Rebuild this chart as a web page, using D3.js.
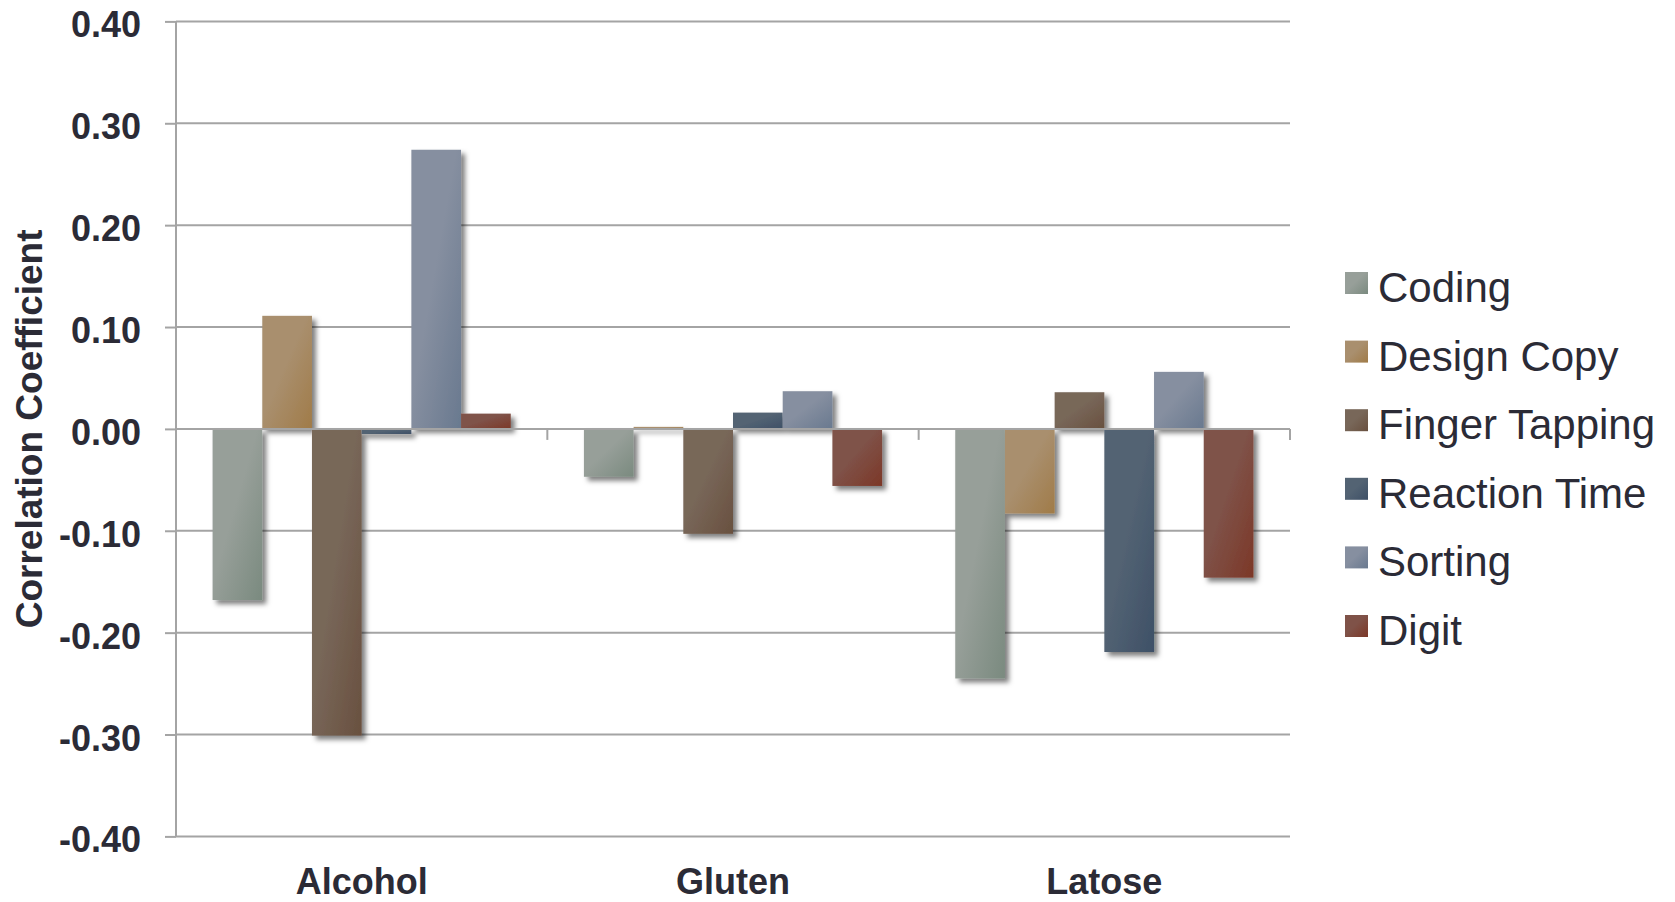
<!DOCTYPE html>
<html>
<head>
<meta charset="utf-8">
<script src="https://cdn.jsdelivr.net/npm/d3@7"></script>
<style>
  html, body { margin: 0; padding: 0; background: #ffffff; }
  svg { display: block; }
  text { font-family: "Liberation Sans", Arial, Helvetica, sans-serif; fill: #2b2b36; }
</style>
</head>
<body>
<svg id="chart" width="1675" height="902"></svg>
<script>
// Substance groups along the x axis
const categories = ["Alcohol", "Gluten", "Latose"];

// Cognitive test series
const seriesNames = ["Coding", "Design Copy", "Finger Tapping", "Reaction Time", "Sorting", "Digit"];

// Correlation coefficients, one array per test, in category order
const coding        = [-0.168, -0.047, -0.245];
const designCopy    = [ 0.111,  0.002, -0.083];
const fingerTapping = [-0.301, -0.103,  0.036];
const reactionTime  = [-0.005,  0.016, -0.219];
const sorting       = [ 0.274,  0.037,  0.056];
const digit         = [ 0.015, -0.056, -0.146];

// Y axis tick values
const yTicks = [0.40, 0.30, 0.20, 0.10, 0.00, -0.10, -0.20, -0.30, -0.40];

// Bar colour ramps (light top-left -> deep bottom-right)
const seriesColors = [
  ["#979f99", "#7a8a7f"],
  ["#a98f6e", "#a07b48"],
  ["#786759", "#69503f"],
  ["#536373", "#3e5067"],
  ["#868fa0", "#69798f"],
  ["#7f5248", "#7c3727"]
];

const seriesValues = [coding, designCopy, fingerTapping, reactionTime, sorting, digit];
const rows = [];
categories.forEach((c, ci) => {
  seriesNames.forEach((s, si) => rows.push({ category: c, series: s, si: si, value: seriesValues[si][ci] }));
});

const svg = d3.select("#chart");
const plotLeft = 176, plotRight = 1290, plotTop = 21.4, plotBottom = 836.4;

const y = d3.scaleLinear().domain([-0.4, 0.4]).range([plotBottom, plotTop]);
const x0 = d3.scaleBand().domain(categories).range([plotLeft, plotRight])
  .paddingInner(0.197).paddingOuter(0.0985);
const x1 = d3.scaleBand().domain(seriesNames).range([0, x0.bandwidth()]);

// Gradients and shadow
const defs = svg.append("defs");
seriesColors.forEach((c, i) => {
  const g = defs.append("linearGradient").attr("id", "grad" + i)
    .attr("x1", 0).attr("y1", 0).attr("x2", 1).attr("y2", 1);
  g.append("stop").attr("offset", "0").attr("stop-color", c[0]);
  g.append("stop").attr("offset", "0.45").attr("stop-color", c[0]);
  g.append("stop").attr("offset", "1").attr("stop-color", c[1]);
});
const f = defs.append("filter").attr("id", "shadow")
  .attr("filterUnits", "userSpaceOnUse")
  .attr("x", 0).attr("y", 0).attr("width", 1675).attr("height", 902);
f.append("feDropShadow").attr("dx", 4).attr("dy", 4).attr("stdDeviation", 2.5)
  .attr("flood-color", "#000").attr("flood-opacity", 0.5);

const gridColor = "#a4a4a4";

// Horizontal gridlines
svg.append("g").selectAll("line").data(yTicks).join("line")
  .attr("x1", plotLeft).attr("x2", plotRight)
  .attr("y1", d => y(d)).attr("y2", d => y(d))
  .attr("stroke", gridColor).attr("stroke-width", 2);

// Y axis with short ticks left of the axis line
const yAxis = d3.axisLeft(y).tickValues(yTicks).tickSize(11)
  .tickFormat(d => d.toFixed(2));
const ya = svg.append("g").attr("transform", `translate(${plotLeft},0)`).call(yAxis);
ya.select(".domain").attr("stroke", gridColor).attr("stroke-width", 2)
  .attr("d", `M0,${plotTop}V${plotBottom}`);
ya.selectAll(".tick line").attr("stroke", gridColor).attr("stroke-width", 2);
ya.selectAll(".tick text")
  .attr("x", -35).attr("dy", "0.43em")
  .style("font-size", "36px").style("font-weight", "bold")
  .attr("fill", "#2b2b36");

// Bars
const barsG = svg.append("g").attr("filter", "url(#shadow)");
barsG.selectAll("rect").data(rows).join("rect")
  .attr("x", d => x0(d.category) + x1(d.series))
  .attr("width", x1.bandwidth())
  .attr("y", d => y(Math.max(0, d.value)))
  .attr("height", d => Math.abs(y(d.value) - y(0)))
  .attr("fill", d => `url(#grad${d.si})`);

// Zero line with category separator ticks
svg.append("line")
  .attr("x1", plotLeft).attr("x2", plotRight).attr("y1", y(0)).attr("y2", y(0))
  .attr("stroke", gridColor).attr("stroke-width", 2);
const sepX = categories.map(c => x0(c) - x0.step() * x0.paddingOuter() + x0.step());
svg.append("g").selectAll("line").data(sepX).join("line")
  .attr("x1", d => d).attr("x2", d => d)
  .attr("y1", y(0)).attr("y2", y(0) + 11)
  .attr("stroke", gridColor).attr("stroke-width", 2);

// Category labels
svg.append("g").selectAll("text").data(categories).join("text")
  .attr("x", d => x0(d) + x0.bandwidth() / 2)
  .attr("y", 894)
  .attr("text-anchor", "middle")
  .style("font-size", "36px").style("font-weight", "bold")
  .text(d => d);

// Y axis title
svg.append("text")
  .attr("transform", `translate(42,${(plotTop + plotBottom) / 2}) rotate(-90)`)
  .attr("text-anchor", "middle")
  .style("font-size", "37px").style("font-weight", "bold")
  .text("Correlation Coefficient");

// Legend
const legend = svg.append("g").attr("transform", "translate(1345,0)");
const lg = legend.selectAll("g").data(seriesNames).join("g")
  .attr("transform", (d, i) => `translate(0,${302 + i * 68.6})`);
lg.append("rect").attr("x", 0).attr("y", -30).attr("width", 23).attr("height", 22)
  .attr("fill", (d, i) => `url(#grad${i})`);
lg.append("text").attr("x", 33).attr("y", 0)
  .style("font-size", "42px")
  .text(d => d);
</script>
</body>
</html>
